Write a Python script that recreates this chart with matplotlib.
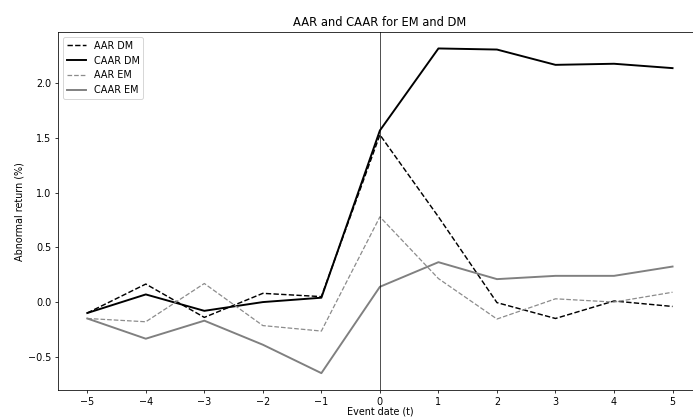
import matplotlib
matplotlib.use("Agg")
import matplotlib.pyplot as plt
import numpy as np

# event window
days = [-5, -4, -3, -2, -1, 0, 1, 2, 3, 4, 5]

# abnormal returns (%)
aar_dm = [-0.10, 0.165, -0.14, 0.08, 0.05, 1.53, 0.78, -0.005, -0.15, 0.01, -0.04]
caar_dm = [-0.10, 0.07, -0.08, 0.00, 0.04, 1.57, 2.32, 2.31, 2.17, 2.18, 2.14]
aar_em = [-0.15, -0.18, 0.17, -0.215, -0.265, 0.78, 0.215, -0.155, 0.03, 0.00, 0.09]
caar_em = [-0.15, -0.335, -0.17, -0.39, -0.65, 0.14, 0.365, 0.21, 0.24, 0.24, 0.325]

dpi = 69.3
fig = plt.figure(figsize=(693 / dpi, 419 / dpi), dpi=dpi)
ax = fig.add_axes([0.0837, 0.069, 0.929, 0.8545])

ax.plot(days, aar_dm, color="black", linestyle="--", linewidth=1.5, label="AAR DM")
ax.plot(days, caar_dm, color="black", linestyle="-", linewidth=2, label="CAAR DM")
ax.plot(days, aar_em, color="#8c8c8c", linestyle="--", linewidth=1.3, label="AAR EM")
ax.plot(days, caar_em, color="grey", linestyle="-", linewidth=2, label="CAAR EM")
ax.axvline(0, color="black", linewidth=1, alpha=0.7)

ax.set_xlim(-5.5, 5.5)
ax.set_ylim(-0.805, 2.47)
ax.set_xticks(days)
ax.set_title("AAR and CAAR for EM and DM")
ax.set_xlabel("Event date (t)", labelpad=0)
ax.set_ylabel("Abnormal return (%)")
ax.legend(loc="upper left")

fig.savefig("out.png", dpi=dpi)
